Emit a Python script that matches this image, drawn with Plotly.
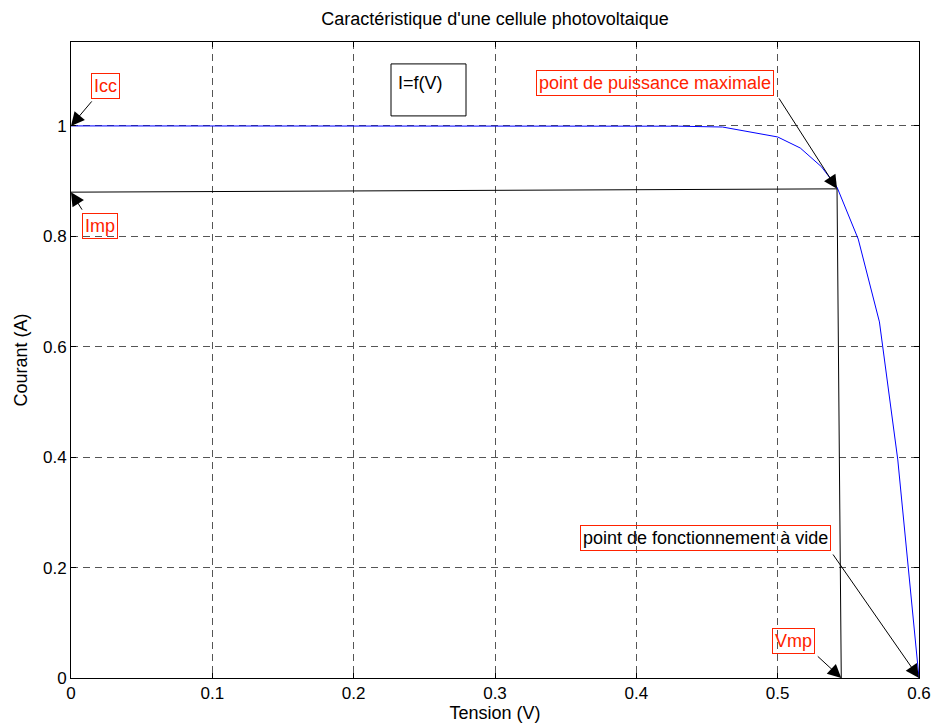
import plotly.graph_objects as go

tension = [0.0, 0.43, 0.461, 0.500, 0.516, 0.531, 0.542, 0.557, 0.572, 0.585, 0.600]
courant = [1.0, 0.9995, 0.998, 0.980, 0.960, 0.926, 0.889, 0.795, 0.645, 0.395, 0.0]

vmp, imp = 0.542, 0.886
imp_axis = 0.880
vmp_axis = 0.545

x_ticks = [0, 0.1, 0.2, 0.3, 0.4, 0.5, 0.6]
x_labels = ["0", "0.1", "0.2", "0.3", "0.4", "0.5", "0.6"]
y_ticks = [0, 0.2, 0.4, 0.6, 0.8, 1.0]
y_labels = ["0", "0.2", "0.4", "0.6", "0.8", "1"]

FONT = "Liberation Sans, Arial, sans-serif"
RED = "#ff2200"

fig = go.Figure()
fig.add_trace(go.Scatter(x=tension, y=courant, mode="lines",
                         line=dict(color="#0000ff", width=1), showlegend=False))
fig.add_trace(go.Scatter(x=[0, vmp], y=[imp_axis, imp], mode="lines",
                         line=dict(color="#000000", width=1), showlegend=False))
fig.add_trace(go.Scatter(x=[vmp, vmp_axis], y=[imp, 0], mode="lines",
                         line=dict(color="#000000", width=1), showlegend=False))

def arrow(x, y, ax, ay):
    fig.add_annotation(x=x, y=y, ax=ax, ay=ay, text="", showarrow=True,
                       arrowhead=2, arrowsize=2.7, arrowwidth=1,
                       arrowcolor="#000000", standoff=0)

def label(x, y, text, color, border, size=18):
    fig.add_annotation(x=x, y=y, text=text, showarrow=False,
                       font=dict(family=FONT, size=size, color=color),
                       bordercolor=border, borderwidth=1, borderpad=2,
                       bgcolor="rgba(255,255,255,0)")

# arrows
arrow(0, 1.0, 22, -26)
arrow(0, imp_axis, 12, 19)
arrow(vmp, imp, -59, -92)
arrow(0.6, 0.0, -87, -125)
arrow(vmp_axis, 0.0, -25, -23)

def px2x(px):
    return (px - 71) / 1413.3

def py2y(py):
    return (678 - py) / 552.0

label(px2x(105), py2y(86), "Icc", RED, RED)
label(px2x(100), py2y(226), "Imp", RED, RED)
label(px2x(655), py2y(83), "point de puissance maximale", RED, RED)
label(px2x(705), py2y(538), "point de fonctionnement à vide", "#000000", RED)
label(px2x(793), py2y(641), "Vmp", RED, RED)

fig.add_shape(type="rect", x0=px2x(391), x1=px2x(466), y0=py2y(116), y1=py2y(64),
              line=dict(color="#000000", width=1))
fig.add_annotation(x=px2x(420), y=py2y(83), text="I=f(V)", showarrow=False,
                   font=dict(family=FONT, size=18, color="#000000"))

axis_common = dict(showline=True, linecolor="#000000", linewidth=1, mirror="ticks",
                   ticks="inside", ticklen=5, tickcolor="#000000", automargin=False,
                   showgrid=True, gridcolor="#555555", gridwidth=1, griddash="7px,5px",
                   zeroline=False, tickfont=dict(family=FONT, size=17, color="#000000"))

fig.update_layout(
    width=932, height=727,
    margin=dict(l=71, r=13, t=42, b=49),
    paper_bgcolor="#ffffff", plot_bgcolor="#ffffff",
    title=dict(text="Caractéristique d'une cellule photovoltaique", x=495 / 932,
               xanchor="center", y=1 - 19 / 727, yanchor="middle", yref="container",
               font=dict(family=FONT, size=18, color="#000000")),
    xaxis=dict(range=[0, 0.6], tickvals=x_ticks, ticktext=x_labels,
               title=dict(text="Tension (V)", standoff=2,
                          font=dict(family=FONT, size=18, color="#000000")),
               **axis_common),
    yaxis=dict(range=[0, 1.152], tickvals=y_ticks, ticktext=y_labels,
               title=dict(text="Courant (A)", standoff=10,
                          font=dict(family=FONT, size=18, color="#000000")),
               **axis_common),
    showlegend=False,
)

fig.write_html("out.html", config={"displayModeBar": False},
               post_script="document.body.style.margin='0px';document.body.style.overflow='hidden';")
